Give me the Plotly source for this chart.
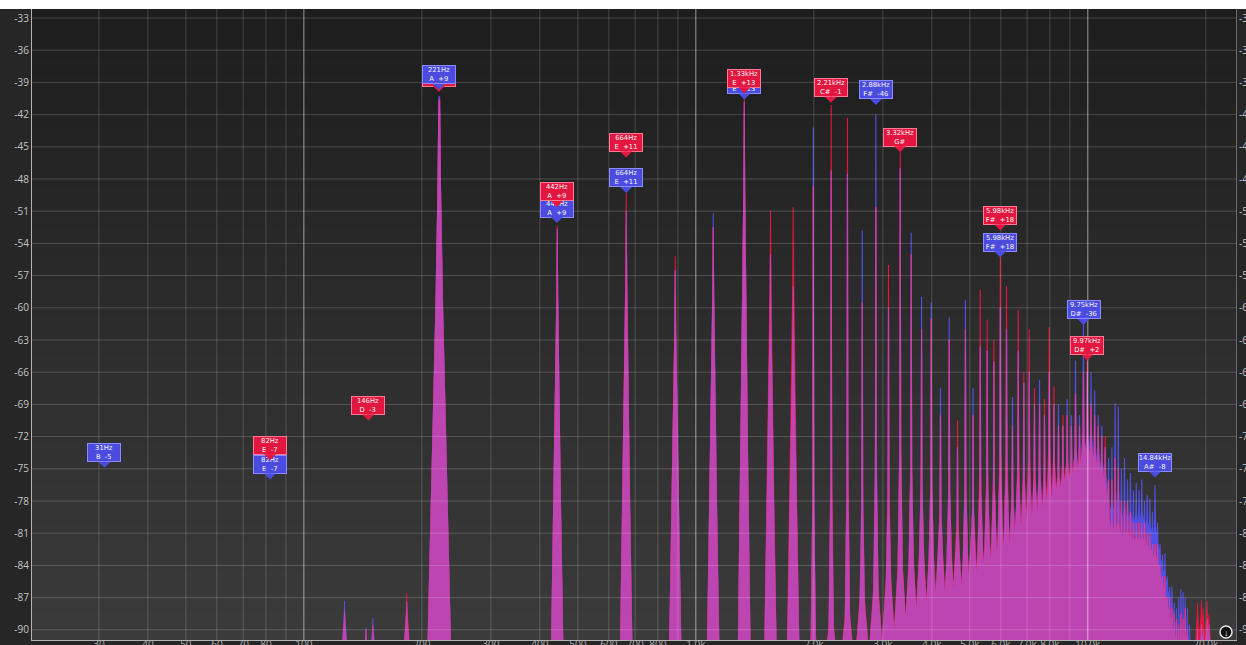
import math
import plotly.graph_objects as go

# ---------------------------------------------------------------- data
# Harmonic series (Hz) with the level of each channel's peak (dBFS) and the
# level of the broadband bed that sits under the upper harmonics.
harm_hz = [
    221.5, 443.0, 664.5, 886.0, 1107.5, 1329.0, 1550.5, 1772.0, 1993.5, 2215.0,
    2436.5, 2658.0, 2879.5, 3101.0, 3322.5, 3544.0, 3765.5, 3987.0, 4208.5, 4430.0,
    4651.5, 4873.0, 5094.5, 5316.0, 5537.5, 5759.0, 5980.5, 6202.0, 6423.5, 6645.0,
    6866.5, 7088.0, 7309.5, 7531.0, 7752.5, 7974.0, 8195.5, 8417.0, 8638.5, 8860.0,
    9081.5, 9303.0, 9524.5, 9746.0, 9967.5, 10189.0, 10410.5, 10632.0, 10853.5, 11075.0,
    11296.5, 11518.0, 11739.5, 11961.0, 12182.5, 12404.0, 12625.5, 12847.0, 13068.5, 13290.0,
    13511.5, 13733.0, 13954.5, 14176.0, 14397.5, 14619.0, 14840.5, 15062.0, 15283.5, 15505.0,
    15726.5, 15948.0, 16169.5, 16391.0, 16612.5, 16834.0, 17055.5, 17277.0, 17498.5, 17720.0,
    17941.5, 18163.0,
]
red_peak_db = [
    -40.6, -52.3, -49.3, -55.2, -52.5, -40.4, -50.9, -50.6, -48.7, -41.1,
    -42.3, -59.5, -50.6, -56.0, -45.5, -55.0, -62.0, -61.0, -70.0, -63.0,
    -70.5, -62.0, -70.0, -58.3, -61.1, -63.0, -55.3, -58.0, -71.0, -60.2,
    -66.0, -62.0, -67.5, -69.0, -68.5, -61.8, -67.3, -71.0, -70.0, -70.0,
    -71.0, -68.0, -71.0, -66.0, -64.9, -69.0, -70.0, -71.0, -72.0, -72.0,
    -76.0, -76.0, -74.0, -75.0, -78.0, -78.0, -78.0, -79.0, -80.0, -80.0,
    -80.0, -80.0, -80.0, -81.0, -81.0, -82.0, -82.0, -82.0, -84.0, -85.0,
    -85.0, -87.0, -87.0, -88.0, -88.5, -89.0, -89.5, -88.5, -89.0, -88.0,
    -90.0, -91.0,
]
blue_peak_db = [
    -40.3, -52.6, -51.0, -56.5, -51.2, -40.8, -55.0, -58.0, -43.2, -47.2,
    -47.5, -52.8, -42.0, -60.0, -47.0, -53.0, -59.0, -59.5, -67.5, -60.9,
    -73.0, -59.3, -67.5, -63.6, -64.0, -65.0, -60.0, -62.0, -68.3, -64.0,
    -67.0, -66.0, -69.0, -66.7, -70.0, -66.0, -69.0, -69.0, -71.0, -68.5,
    -70.0, -64.9, -70.0, -61.4, -66.0, -66.0, -67.7, -70.0, -71.0, -73.0,
    -74.0, -73.0, -68.9, -69.2, -75.0, -74.0, -76.0, -75.4, -77.0, -76.3,
    -77.0, -76.0, -78.0, -77.4, -77.8, -79.0, -76.5, -80.0, -82.0, -83.0,
    -82.9, -85.0, -86.0, -86.0, -87.5, -88.0, -87.0, -86.2, -86.5, -87.0,
    -88.0, -89.5,
]
red_bed_db = [
    None, None, None, None, None, None, None, None, -90.5, -89.5,
    -88.5, -87.0, -86.0, -85.0, -84.0, -83.5, -83.0, -83.0, -83.0, -83.0,
    -83.5, -83.0, -82.5, -82.0, -81.5, -81.5, -81.0, -80.5, -80.5, -80.0,
    -79.5, -79.0, -78.5, -78.5, -78.0, -77.5, -77.0, -77.0, -76.5, -76.0,
    -76.0, -75.5, -75.0, -74.5, -74.5, -74.5, -75.0, -75.5, -76.0, -77.5,
    -81.0, -82.0, -82.0, -82.0, -82.5, -82.0, -82.0, -82.0, -82.5, -82.0,
    -82.5, -82.0, -82.5, -82.5, -83.0, -83.5, -83.5, -84.5, -85.5, -86.5,
    -87.5, -88.5, -89.5, -90.5, -91.5, -92.0, -92.0, -92.0, -92.0, -92.0,
    -92.0, -92.0,
]
blue_bed_db = [
    None, None, None, None, None, None, None, None, -91.0, -90.0,
    -89.0, -87.5, -86.5, -85.5, -84.5, -84.0, -83.5, -83.5, -83.5, -83.5,
    -84.0, -83.5, -83.0, -82.5, -82.0, -82.0, -81.5, -81.0, -81.0, -80.5,
    -80.0, -79.5, -79.0, -78.5, -78.5, -78.0, -77.5, -77.5, -77.0, -76.5,
    -76.5, -75.5, -75.5, -74.5, -74.5, -74.0, -74.5, -75.0, -75.5, -76.5,
    -79.5, -80.5, -80.5, -80.5, -81.0, -80.5, -80.5, -80.5, -81.0, -80.5,
    -81.0, -80.5, -81.0, -81.0, -81.5, -82.0, -82.0, -83.0, -84.0, -85.0,
    -86.0, -87.0, -88.0, -89.0, -90.0, -91.0, -91.5, -91.5, -92.0, -92.0,
    -92.0, -92.0,
]

# Isolated low rumble and top-octave components
extra_hz = [127.0, 144.0, 150.0, 183.0, 19050.0, 19490.0, 19710.0, 20160.0, 20380.0]
extra_red_db = [-88.2, -90.0, -89.6, -86.6, -87.5, -87.2, -88.0, -87.3, -88.5]
extra_blue_db = [-87.3, -89.8, -88.9, -87.4, -90.0, -89.5, -90.0, -89.0, -89.5]

# Peak markers
mk_side = ["blue", "red", "blue", "red", "red", "blue", "red", "blue", "red", "blue",
           "red", "blue", "red", "blue", "red", "red", "blue", "blue", "red", "blue"]
mk_hz = [31, 82, 82, 146, 221, 221, 442, 442, 664, 664,
         1330, 1330, 2210, 2880, 3320, 5980, 5980, 9750, 9970, 14840]
mk_db = [-74.9, -74.2, -76.0, -70.5, -39.9, -39.7, -50.6, -52.1, -46.0, -49.3,
         -40.0, -40.6, -40.9, -41.1, -45.5, -52.8, -55.3, -61.6, -64.9, -75.8]
mk_freq = ["31Hz", "82Hz", "82Hz", "146Hz", "221Hz", "221Hz", "442Hz", "442Hz", "664Hz", "664Hz",
           "1.33kHz", "1.33kHz", "2.21kHz", "2.88kHz", "3.32kHz", "5.98kHz", "5.98kHz",
           "9.75kHz", "9.97kHz", "14.84kHz"]
mk_note = ["B  -5", "E  -7", "E  -7", "D  -3", "A  +9", "A  +9", "A  +9", "A  +9", "E  +11", "E  +11",
           "E  +13", "E  +13", "C#  -1", "F#  -46", "G#", "F#  +18", "F#  +18",
           "D#  -36", "D#  +2", "A#  -8"]

# Axes
y_ticks = [-33, -36, -39, -42, -45, -48, -51, -54, -57, -60,
           -63, -66, -69, -72, -75, -78, -81, -84, -87, -90]
x_tick_hz = [30, 40, 50, 60, 70, 80, 100, 200, 300, 400, 500, 600, 700, 800,
             1000, 2000, 3000, 4000, 5000, 6000, 7000, 8000, 10000, 20000]
x_tick_text = ["30", "40", "50", "60", "70", "80", "100", "200", "300", "400", "500", "600",
               "700", "800", "1.0k", "2.0k", "3.0k", "4.0k", "5.0k", "6.0k", "7.0k", "8.0k",
               "10.0k", "20.0k"]
grid_hz = [30, 40, 50, 60, 70, 80, 90, 100, 200, 300, 400, 500, 600, 700, 800, 900,
           1000, 2000, 3000, 4000, 5000, 6000, 7000, 8000, 9000, 10000, 20000]
major_hz = [100, 1000, 10000]

# ---------------------------------------------------------------- geometry
W, H = 1246, 645
M_L, M_R, M_T, M_B = 32, 10, 9, 5
X_RANGE = [math.log10(20.25), math.log10(23880.0)]
Y_RANGE = [-90.95, -32.16]
PLOT_W = W - M_L - M_R
DEC_PER_PX = (X_RANGE[1] - X_RANGE[0]) / PLOT_W
FLOOR = -96.0

RED = "#e2163f"
BLUE = "#5150e6"
MIX = "#bd45b2"


def spike_outline(hz, peak, bed, base_px):
    """Closed outline of one spectral line, widths given in screen pixels."""
    lf = math.log10(hz)
    if bed is None:
        rows = [(FLOOR + h * (peak - FLOOR), w * base_px)
                for h, w in ((0.0, 1.0), (0.4, 0.55), (0.65, 0.3), (0.85, 0.14), (1.0, 0.07))]
    else:
        rows = [(FLOOR, base_px), (bed, 2.7)]
        if peak > bed:
            rows += [(bed + 0.3 * (peak - bed), 1.0), (peak, 0.55)]
    xs = [10 ** (lf - w * DEC_PER_PX) for _, w in rows] + \
         [10 ** (lf + w * DEC_PER_PX) for _, w in reversed(rows)]
    ys = [lv for lv, _ in rows] + [lv for lv, _ in reversed(rows)]
    return xs, ys


def channel_path(peaks, beds, extras):
    X, Y = [], []
    for i, (hz, pk, bd) in enumerate(zip(harm_hz, peaks, beds)):
        if pk is None:
            continue
        base = 13.0 if i == 0 else (7.0 if bd is None else 10.0)
        xs, ys = spike_outline(hz, pk, bd, base)
        X += xs + [None]
        Y += ys + [None]
    for hz, pk in zip(extra_hz, extras):
        xs, ys = spike_outline(hz, pk, None, 6.0)
        X += xs + [None]
        Y += ys + [None]
    return X, Y


def lower(a, b):
    if a is None or b is None:
        return None
    return min(a, b)


red_x, red_y = channel_path(red_peak_db, red_bed_db, extra_red_db)
blue_x, blue_y = channel_path(blue_peak_db, blue_bed_db, extra_blue_db)
mix_x, mix_y = channel_path([lower(a, b) for a, b in zip(red_peak_db, blue_peak_db)],
                            [lower(a, b) for a, b in zip(red_bed_db, blue_bed_db)],
                            [min(a, b) for a, b in zip(extra_red_db, extra_blue_db)])

fig = go.Figure()
for xs, ys, col in ((blue_x, blue_y, BLUE), (red_x, red_y, RED), (mix_x, mix_y, MIX)):
    fig.add_trace(go.Scatter(x=xs, y=ys, mode="lines", fill="toself", fillcolor=col,
                             line=dict(width=0, color=col), hoverinfo="skip",
                             showlegend=False))
# carries the right-hand dB scale
fig.add_trace(go.Scatter(x=[], y=[], yaxis="y2", showlegend=False, hoverinfo="skip"))

# ---------------------------------------------------------------- backdrop
shapes = []
N_BANDS = 64
top_c, bot_c = 29, 59
for i in range(N_BANDS):
    c = round(bot_c + (top_c - bot_c) * (i + 0.5) / N_BANDS)
    shapes.append(dict(type="rect", xref="paper", yref="paper", x0=0, x1=1,
                       y0=i / N_BANDS, y1=(i + 1) / N_BANDS + 0.002,
                       fillcolor=f"rgb({c},{c},{c})", line=dict(width=0), layer="below"))


def xfrac(hz):
    return (math.log10(hz) - X_RANGE[0]) / (X_RANGE[1] - X_RANGE[0])


for hz in grid_hz:
    col = "rgba(255,255,255,0.55)" if hz in major_hz else "rgba(255,255,255,0.17)"
    shapes.append(dict(type="line", xref="paper", yref="paper", x0=xfrac(hz), x1=xfrac(hz),
                       y0=0, y1=1, line=dict(color=col, width=1), layer="above"))
for v in y_ticks:
    shapes.append(dict(type="line", xref="paper", yref="y", x0=0, x1=1, y0=v, y1=v,
                       line=dict(color="rgba(255,255,255,0.18)", width=1), layer="above"))

# white strip across the top of the window
shapes.append(dict(type="rect", xref="paper", yref="paper", x0=-0.1, x1=1.1, y0=1.0, y1=1.1,
                   fillcolor="#ffffff", line=dict(width=0), layer="above"))
# freeze button, bottom right
icon_x = (1226 - M_L) / PLOT_W
icon_y = (H - M_B - 632) / (H - M_T - M_B)
shapes.append(dict(type="circle", xref="paper", yref="paper", xsizemode="pixel",
                   ysizemode="pixel", xanchor=icon_x, yanchor=icon_y, x0=-6, x1=6, y0=-6, y1=6,
                   fillcolor="#101010", line=dict(color="#e8e8e8", width=1.5), layer="above"))

# ---------------------------------------------------------------- markers
annotations = []
order = sorted(range(len(mk_hz)), key=lambda k: mk_db[k])
for k in order:
    fill = RED if mk_side[k] == "red" else "#4b4be0"
    edge = "#ff7a95" if mk_side[k] == "red" else "#8c8cff"
    annotations.append(dict(
        x=math.log10(mk_hz[k]), y=mk_db[k], xref="x", yref="y",
        text=mk_freq[k] + "<br>" + mk_note[k].replace(" ", "\u00a0"),
        font=dict(family="DejaVu Sans", size=6.8, color="#f4f4f4"),
        align="center", width=32,
        bgcolor=fill, bordercolor=edge, borderwidth=1, borderpad=0,
        showarrow=True, arrowhead=1, arrowsize=1, arrowwidth=2, arrowcolor=fill,
        ax=0, ay=-15, standoff=0,
    ))
annotations.append(dict(x=icon_x, y=icon_y, xref="paper", yref="paper", text="<b>↓</b>",
                        showarrow=False, font=dict(size=9, color="#f0f0f0"),
                        xanchor="center", yanchor="middle"))

# ---------------------------------------------------------------- layout
tick_font = dict(family="Open Sans", size=10, color="#c4c4c4")
fig.update_layout(
    width=W, height=H,
    margin=dict(l=M_L, r=M_R, t=M_T, b=M_B, autoexpand=False),
    paper_bgcolor="#262626", plot_bgcolor="#2c2c2c",
    showlegend=False, hovermode=False,
    shapes=shapes, annotations=annotations,
    xaxis=dict(type="log", range=X_RANGE, tickvals=x_tick_hz, ticktext=x_tick_text,
               showgrid=False, zeroline=False, ticks="", ticklabelstandoff=-5,
               tickfont=dict(family="Open Sans", size=10, color="#b0b0b0"),
               showline=True, linecolor="#b4b4b4", linewidth=1, automargin=False, fixedrange=True),
    yaxis=dict(range=Y_RANGE, tickvals=y_ticks, ticktext=[str(v) for v in y_ticks],
               showgrid=False, zeroline=False, ticks="", tickfont=tick_font,
               showline=True, linecolor="#b4b4b4", linewidth=1, automargin=False, fixedrange=True),
    yaxis2=dict(range=Y_RANGE, overlaying="y", side="right", tickvals=y_ticks,
                ticktext=[str(v) for v in y_ticks], showgrid=False, zeroline=False, ticks="",
                tickfont=tick_font, showline=True, linecolor="#6c6c6c", linewidth=1,
                automargin=False, fixedrange=True),
)

fig.write_html("out.html")
